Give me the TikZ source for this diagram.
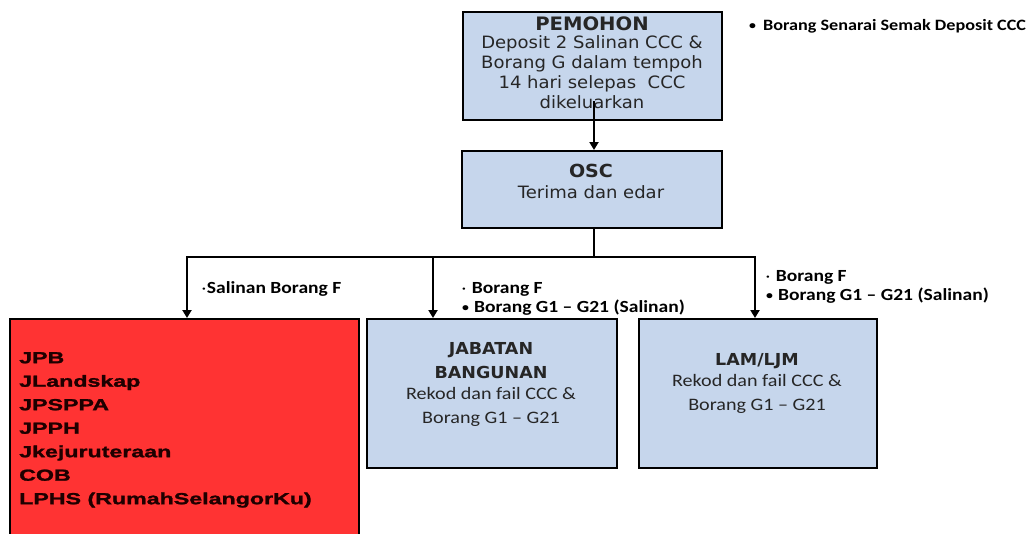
\documentclass[tikz,border=0pt]{standalone}
\usepackage{fontspec}
\setmainfont{Carlito}
\newfontfamily\verdfont[FakeStretch=1.06]{DejaVu Sans}
\newfontfamily\califont[FakeStretch=1.15]{Carlito}
\newfontfamily\blackfont[FakeStretch=1.45,BoldFeatures={FakeBold=1.6}]{Liberation Sans}
\usetikzlibrary{arrows.meta,positioning}
\definecolor{boxblue}{HTML}{C6D6EC}
\definecolor{boxred}{HTML}{FF3333}
\definecolor{inkgray}{HTML}{262626}
\definecolor{inkred}{HTML}{1E0000}
\newcommand{\smallbul}{{\fontsize{12}{12}\selectfont\raisebox{1pt}{•}}}
\newcommand{\middot}{{\fontsize{12}{12}\selectfont\raisebox{1pt}{·}}}
\tikzset{
  flowbox/.style={draw=black, line width=2.4pt, fill=boxblue, inner sep=0pt, anchor=north west},
  redbox/.style={flowbox, fill=boxred},
  flowline/.style={line width=2pt},
  flowarrow/.style={flowline, -{Triangle[length=8pt,width=9pt]}},
  boxtext/.style={align=center, inner sep=0pt, anchor=north, text=inkgray},
  notetext/.style={font=\califont\bfseries\fontsize{17}{19}\selectfont, inner sep=0pt, anchor=base west, align=left}
}

\begin{document}
\begin{tikzpicture}[x=1pt,y=-1pt]
\clip (0,0) rectangle (1033,533);
\fill[white] (0,0) rectangle (1033,533);
%boxes
\node[flowbox, minimum width=259pt, minimum height=108pt] (pemohon) at (462,11) {};
\node[flowbox, minimum width=260pt, minimum height=77pt] (osc) at (461,150) {};
\node[redbox, minimum width=349pt, minimum height=230pt] (lain) at (9,318) {};
\node[flowbox, minimum width=250pt, minimum height=149pt] (jb) at (366,318) {};
\node[flowbox, minimum width=238pt, minimum height=149pt] (lam) at (638,318) {};
%box texts
\node[boxtext, font=\verdfont\fontsize{17}{20}\selectfont] (pemohontxt) at (592,17)
  {{\bfseries\fontsize{18.5}{20}\selectfont PEMOHON}\\[-2pt]
   Deposit 2 Salinan CCC \&\\ Borang G dalam tempoh\\ 14 hari selepas\ \ CCC\\ dikeluarkan};
\node[boxtext, font=\verdfont\fontsize{17}{21}\selectfont] (osctxt) at (591,164)
  {{\bfseries\fontsize{18}{21}\selectfont OSC}\\ Terima dan edar};
\node[boxtext, font=\verdfont\bfseries\fontsize{16.5}{24}\selectfont] (jbtxt) at (491,342)
  {JABATAN\\ BANGUNAN\\[-3pt]
   {\califont\mdseries\fontsize{17.5}{21}\selectfont Rekod dan fail CCC \&}\\
   {\califont\mdseries\fontsize{17.5}{21}\selectfont Borang G1 – G21}};
\node[boxtext, font=\verdfont\bfseries\fontsize{16.5}{24}\selectfont] (lamtxt) at (757,353)
  {LAM/LJM\\[-3pt]
   {\califont\mdseries\fontsize{17.5}{21}\selectfont Rekod dan fail CCC \&}\\
   {\califont\mdseries\fontsize{17.5}{21}\selectfont Borang G1 – G21}};
\node[inner sep=0pt, anchor=north west, align=left, text=inkred,
  font=\blackfont\bfseries\fontsize{16}{23.5}\selectfont] (laintxt) at (19,352)
  {JPB\\ JLandskap\\ JPSPPA\\ JPPH\\ Jkejuruteraan\\ COB\\ LPHS (RumahSelangorKu)};
%notes
\node[notetext, font=\califont\bfseries\fontsize{15.8}{19}\selectfont] (senarai) at (749,30)
  {\smallbul\hspace{7pt}Borang Senarai Semak Deposit CCC};
\node[notetext] (salinanf) at (202,293) {\middot\hspace{1pt}Salinan Borang F};
\node[notetext] (jbnote) at (462,312) {\middot\hspace{6pt}Borang F\\ \smallbul\hspace{5pt}Borang G1 – G21 (Salinan)};
\node[notetext] (lamnote) at (766,300) {\middot\hspace{6pt}Borang F\\ \smallbul\hspace{5pt}Borang G1 – G21 (Salinan)};
%connectors
\coordinate (spine) at (594,257);
\coordinate (busleft) at (187,257);
\coordinate (busmid) at (433,257);
\coordinate (busright) at (755,257);
\draw[flowarrow] ([yshift=20pt]spine |- pemohon.south) -- (spine |- osc.north);
\draw[flowline] (spine |- osc.south) -- (spine);
\draw[flowline] ([xshift=-1pt]busleft) -- ([xshift=1pt]busright);
\draw[flowarrow] (busleft) -- (busleft |- lain.north);
\draw[flowarrow] (busmid) -- (busmid |- jb.north);
\draw[flowarrow] (busright) -- (busright |- lam.north);
\end{tikzpicture}
\end{document}
